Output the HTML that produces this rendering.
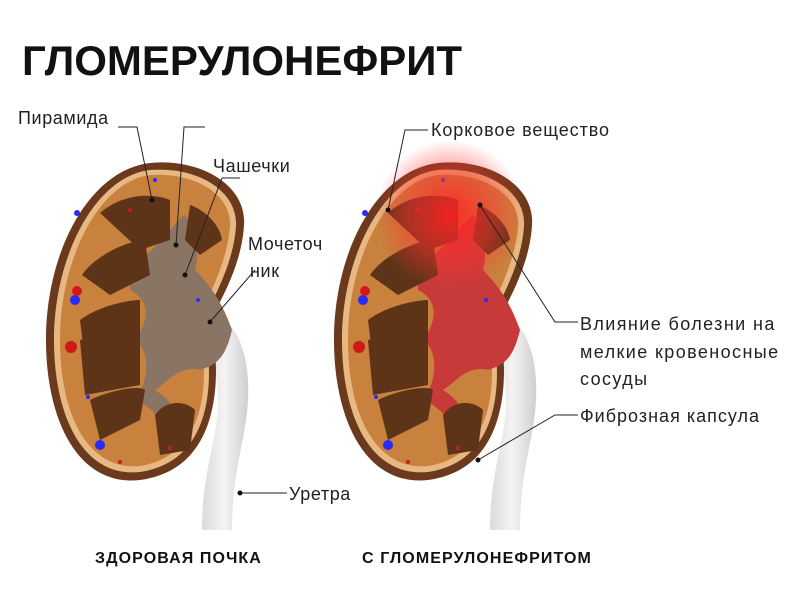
<!DOCTYPE html>
<html><head><meta charset="utf-8"><style>
body{margin:0;background:#fff;width:800px;height:591px;overflow:hidden}
svg{display:block}
text{font-family:"Liberation Sans",sans-serif}
</style></head><body>
<svg width="800" height="591" viewBox="0 0 800 591">
<defs>
<radialGradient id="red" cx="450" cy="215" r="75" gradientUnits="userSpaceOnUse">
<stop offset="0" stop-color="#ff2020" stop-opacity="0.9"/><stop offset="0.6" stop-color="#ff3030" stop-opacity="0.45"/><stop offset="1" stop-color="#ff3030" stop-opacity="0"/></radialGradient>
<linearGradient id="ur" x1="0" x2="1"><stop offset="0" stop-color="#d8d8d8"/><stop offset="0.5" stop-color="#f4f4f4"/><stop offset="1" stop-color="#cfcfcf"/></linearGradient>
<g id="kid">
<path d="M222 318 C240 330 250 360 248 400 C246 440 232 470 232 530 L202 530 C202 470 218 440 218 400 C218 370 210 345 200 335 Z" fill="url(#ur)"/>
<path d="M150 163 C200 158 247 185 244 225 C242 260 226 290 216 310 C210 330 216 350 216 370 C216 420 200 472 140 480 C78 487 46 420 46 340 C46 250 90 170 150 163 Z" fill="#6b3a1c"/>
<path d="M150 170 C196 166 238 190 236 226 C234 258 219 288 209 308 C203 330 209 352 209 372 C209 418 194 464 140 472 C84 478 54 418 54 340 C54 255 96 176 150 170 Z" fill="#e8b882"/>
<path d="M150 175 C194 172 232 194 230 226 C228 256 214 286 204 306 C198 330 204 352 204 372 C204 415 190 458 140 466 C88 471 60 415 60 340 C60 258 100 181 150 175 Z" fill="#c8823e"/>
</g>
<path id="pel" d="M130 265 C160 250 175 220 185 215 C195 230 200 250 195 270 C215 290 225 310 232 330 C225 360 215 365 200 370 C180 365 170 380 155 390 C170 400 180 410 170 430 C160 420 150 405 135 400 C150 380 150 350 135 340 C150 320 150 300 130 290 Z"/>
<g id="pyr">
<g fill="#5e3418">
<path d="M100 213 C120 195 150 192 170 200 L170 240 L140 250 Z"/>
<path d="M190 205 C205 210 220 225 222 240 L200 255 L185 240 Z"/>
<path d="M82 275 C95 255 130 240 145 240 L150 275 L110 295 Z"/>
<path d="M80 320 C100 305 130 300 140 300 L140 350 L85 360 Z"/>
<path d="M80 340 C100 335 130 335 140 345 L140 385 L85 395 Z"/>
<path d="M90 400 C110 390 140 385 145 390 L140 420 L100 440 Z"/>
<path d="M155 415 C165 400 185 400 195 410 L190 450 L160 455 Z"/>
</g>
<g fill="#2a2aff"><circle cx="77" cy="213" r="3"/><circle cx="75" cy="300" r="5"/><circle cx="100" cy="445" r="5"/><circle cx="88" cy="397" r="2"/><circle cx="198" cy="300" r="2"/><circle cx="155" cy="180" r="2"/></g>
<g fill="#d01818"><circle cx="77" cy="291" r="5"/><circle cx="71" cy="347" r="6"/><circle cx="120" cy="462" r="2"/><circle cx="170" cy="448" r="2"/><circle cx="130" cy="210" r="2"/></g>
</g>
</defs>
<text x="22" y="75" font-size="42" font-weight="bold" fill="#111">ГЛОМЕРУЛОНЕФРИТ</text>
<use href="#kid"/>
<use href="#pel" fill="#8a7464"/>
<use href="#pyr"/>
<g transform="translate(288,0)">
<use href="#kid"/>
<use href="#pel" fill="#c83a3a"/>
<use href="#pyr"/>
</g>
<rect x="330" y="140" width="240" height="180" fill="url(#red)"/>
<g stroke="#222" stroke-width="1" fill="none">
<polyline points="118,127 137,127 152,200"/>
<polyline points="205,127 184,127 176,245"/>
<polyline points="240,178 222,178 185,275"/>
<polyline points="255,270 210,322"/>
<polyline points="287,493 240,493"/>
<polyline points="428,130 405,130 388,210"/>
<polyline points="578,322 555,322 480,205"/>
<polyline points="578,415 555,415 478,460"/>
</g>
<g fill="#111"><circle cx="152" cy="200" r="2.5"/><circle cx="176" cy="245" r="2.5"/><circle cx="185" cy="275" r="2.5"/><circle cx="210" cy="322" r="2.5"/><circle cx="240" cy="493" r="2.5"/><circle cx="388" cy="210" r="2.5"/><circle cx="480" cy="205" r="2.5"/><circle cx="478" cy="460" r="2.5"/></g>
<g font-size="18" fill="#222" letter-spacing="0.6">
<text x="18" y="124">Пирамида</text>
<text x="213" y="172">Чашечки</text>
<text x="248" y="250">Мочеточ</text>
<text x="250" y="277">ник</text>
<text x="289" y="500">Уретра</text>
<text x="431" y="136" letter-spacing="0.9">Корковое вещество</text>
<text x="580" y="330" letter-spacing="1.4">Влияние болезни на</text>
<text x="580" y="358" letter-spacing="1.4">мелкие кровеносные</text>
<text x="580" y="385" letter-spacing="1.4">сосуды</text>
<text x="580" y="422" letter-spacing="1">Фиброзная капсула</text>
</g>
<g font-size="16" font-weight="bold" fill="#111" letter-spacing="1.1">
<text x="95" y="563">ЗДОРОВАЯ ПОЧКА</text>
<text x="362" y="563">С ГЛОМЕРУЛОНЕФРИТОМ</text>
</g>
</svg>
</body></html>
